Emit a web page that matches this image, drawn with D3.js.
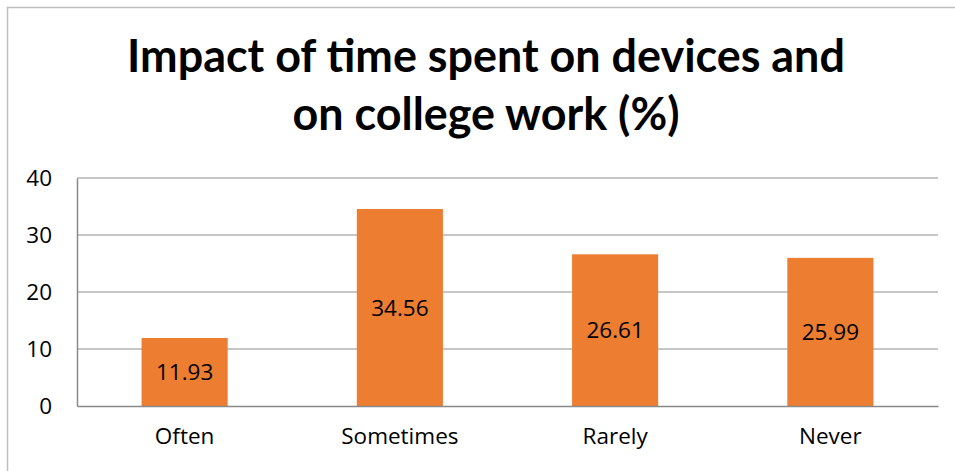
<!DOCTYPE html>
<html><head><meta charset="utf-8">
<script src="https://cdn.jsdelivr.net/npm/d3@7"></script>
<style>html,body{margin:0;padding:0;background:#fff;overflow:hidden}</style>
</head><body>
<svg id="c" width="955" height="471"></svg>
<script>
const categories = ["Often", "Sometimes", "Rarely", "Never"];
const values = [11.93, 34.56, 26.61, 25.99];
const yTicks = [0, 10, 20, 30, 40];
const titleLines = ["Impact of time spent on devices and", "on college work (%)"];

const svg = d3.select("#c");
const titleFont = "Lato, 'Open Sans', sans-serif";
const font = "'Open Sans', Lato, sans-serif";
const fsz = 22.5;
const m = {left: 77, right: 938, top: 178, bottom: 406};

svg.append("rect").attr("x", 7.5).attr("y", 7.5).attr("width", 1000).attr("height", 500)
  .attr("fill", "#fff").attr("stroke", "#bfbfbf").attr("stroke-width", 1.5);

const x = d3.scaleBand().domain(categories).range([m.left, m.right]).paddingInner(0.6).paddingOuter(0.3);
const y = d3.scaleLinear().domain([0, 40]).range([m.bottom, m.top]);

svg.append("g").selectAll("line").data(yTicks.filter(d => d > 0)).join("line")
  .attr("x1", m.left).attr("x2", m.right)
  .attr("y1", d => y(d)).attr("y2", d => y(d))
  .attr("stroke", "#b3b3b3").attr("stroke-width", 1.3);

svg.append("g").selectAll("rect").data(values).join("rect")
  .attr("x", (d, i) => x(categories[i])).attr("width", x.bandwidth())
  .attr("y", d => y(d)).attr("height", d => y(0) - y(d))
  .attr("fill", "#ED7D31");

svg.append("g").selectAll("text").data(values).join("text")
  .attr("x", (d, i) => x(categories[i]) + x.bandwidth() / 2)
  .attr("y", d => (y(d) + y(0)) / 2)
  .attr("dy", "0.36em").attr("text-anchor", "middle")
  .attr("font-family", font).attr("font-size", fsz).attr("fill", "#000")
  .text(d => d.toFixed(2));

const yAxis = svg.append("g").attr("transform", `translate(${m.left},0)`)
  .call(d3.axisLeft(y).tickValues(yTicks).tickSize(0).tickPadding(25));
yAxis.select(".domain").attr("stroke", "#898989").attr("stroke-width", 1.5);
yAxis.selectAll("text").attr("font-family", font).attr("font-size", fsz).attr("fill", "#000");

const xAxis = svg.append("g").attr("transform", `translate(0,${m.bottom})`)
  .call(d3.axisBottom(x).tickSize(0).tickPadding(22));
xAxis.select(".domain").attr("stroke", "#898989").attr("stroke-width", 1.5);
xAxis.selectAll("text").attr("font-family", font).attr("font-size", fsz).attr("fill", "#000");

const t = svg.append("g").selectAll("text").data(titleLines).join("text")
  .attr("x", 486).attr("y", (d, i) => 72 + i * 58)
  .attr("text-anchor", "middle")
  .attr("font-family", titleFont).attr("font-weight", "bold").attr("font-size", 42)
  .attr("fill", "#000").text(d => d);
const w = t.nodes()[0].getComputedTextLength();
t.attr("font-size", 42 * 718 / w);
</script>
</body></html>
